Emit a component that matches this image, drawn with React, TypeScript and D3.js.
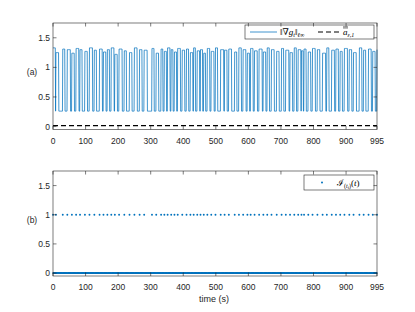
import React from 'react';
import * as d3 from 'd3';

// event instants (s) where the indicator fires; each starts a pulse in the top panel
const eventTimes = [0, 9, 30, 44, 58, 71, 83, 98, 112, 127, 143, 155, 167, 179, 190, 203, 219, 235, 250, 266,
  280, 304, 317, 332, 342, 352, 363, 373, 383, 397, 410, 422, 432, 443, 453, 463, 474, 486, 499, 515,
  527, 540, 558, 571, 584, 597, 607, 619, 633, 646, 658, 671, 687, 702, 715, 728, 741, 753, 763, 771,
  784, 797, 812, 828, 841, 856, 869, 882, 895, 910, 923, 941, 954, 969, 982, 995];
const pulseWidth = [8, 9, 7, 10, 8, 9, 7, 8, 10, 7, 9, 8, 7, 9, 8, 10, 7, 8, 9, 8,
  10, 7, 8, 6, 7, 8, 6, 7, 9, 8, 7, 8, 6, 8, 7, 6, 8, 9, 7, 10,
  8, 9, 7, 8, 9, 7, 8, 9, 10, 8, 7, 9, 8, 7, 10, 8, 7, 9, 6, 7,
  8, 9, 8, 10, 7, 9, 8, 7, 10, 8, 9, 8, 7, 9, 8, 1];
const pulseHigh = [1.33, 1.25, 1.31, 1.3, 1.24, 1.32, 1.3, 1.27, 1.33, 1.29, 1.31, 1.26, 1.3, 1.33, 1.22, 1.31, 1.28, 1.25, 1.33, 1.3,
  1.29, 1.32, 1.24, 1.31, 1.27, 1.33, 1.3, 1.26, 1.32, 1.29, 1.31, 1.25, 1.33, 1.28, 1.3, 1.24, 1.32, 1.27, 1.33, 1.3,
  1.29, 1.31, 1.26, 1.33, 1.3, 1.24, 1.32, 1.28, 1.31, 1.26, 1.33, 1.3, 1.27, 1.32, 1.29, 1.25, 1.33, 1.3, 1.28, 1.31,
  1.26, 1.32, 1.3, 1.24, 1.33, 1.29, 1.31, 1.27, 1.32, 1.3, 1.25, 1.33, 1.29, 1.31, 1.27, 1.3];
const lowLevel = 0.26;
const threshold = 0.015;
const tEnd = 995;

const xTicks = [0, 100, 200, 300, 400, 500, 600, 700, 800, 900, 995];
const yTicks = [0, 0.5, 1, 1.5];

const blue = '#0072BD';
const axisColor = '#262626';
const tickFont = '"Liberation Sans", Arial, sans-serif';
const mathFont = '"Liberation Serif", "DejaVu Serif", serif';

// sampled signal, one sample per second
const times = d3.range(0, tEnd + 1, 1);
const gradNorm = times.map((t) => {
  const k = eventTimes.findIndex((s, i) => t >= s && t < s + pulseWidth[i]);
  return k >= 0 ? pulseHigh[k] : lowLevel;
});
const indicator = times.map((t) => (eventTimes.includes(t) ? 1 : 0));

const W = 415;
const H = 312;
const left = 53;
const right = 377;

const Panel: React.FC<{ top: number; bottom: number; children: React.ReactNode; label: string; xs: d3.ScaleLinear<number, number>; ys: d3.ScaleLinear<number, number> }> = ({ top, bottom, children, label, xs, ys }) => {
  const tl = 3.5;
  return (
    <g>
      {children}
      <rect x={left} y={top} width={right - left} height={bottom - top} fill="none" stroke={axisColor} strokeWidth={0.6} />
      {xTicks.map((t) => (
        <g key={'x' + t}>
          <line x1={xs(t)} x2={xs(t)} y1={bottom} y2={bottom - tl} stroke={axisColor} strokeWidth={0.6} />
          <line x1={xs(t)} x2={xs(t)} y1={top} y2={top + tl} stroke={axisColor} strokeWidth={0.6} />
          <text x={xs(t)} y={bottom + 14} textAnchor="middle" fontSize={8.5} fill={axisColor} fontFamily={tickFont}>{t}</text>
        </g>
      ))}
      {yTicks.map((v) => (
        <g key={'y' + v}>
          <line x1={left} x2={left + tl} y1={ys(v)} y2={ys(v)} stroke={axisColor} strokeWidth={0.6} />
          <line x1={right} x2={right - tl} y1={ys(v)} y2={ys(v)} stroke={axisColor} strokeWidth={0.6} />
          <text x={left - 3} y={ys(v) + 3} textAnchor="end" fontSize={8.5} fill={axisColor} fontFamily={tickFont}>{v}</text>
        </g>
      ))}
      <text x={32} y={ys(1) + 8} textAnchor="middle" fontSize={8.5} fill={axisColor} fontFamily={tickFont}>{label}</text>
    </g>
  );
};

const App: React.FC = () => {
  const xs = d3.scaleLinear().domain([0, tEnd]).range([left, right]);
  const ysA = d3.scaleLinear().domain([-0.05, 1.75]).range([129.5, 23]);
  const ysB = d3.scaleLinear().domain([-0.05, 1.75]).range([276, 171]);

  const line = d3.line<number>().x((_, i) => xs(times[i])).y((d) => ysA(d));
  const threshLine = d3.line<number>().x((t) => xs(t)).y(() => ysA(threshold));

  return (
    <svg width={W} height={H} style={{ position: 'absolute', left: 0, top: 0, background: '#fff' }}>
      <rect width={W} height={H} fill="#fff" />
      <Panel top={23} bottom={129.5} label="(a)" xs={xs} ys={ysA}>
        <path d={line(gradNorm) || ''} fill="none" stroke={blue} strokeWidth={0.75} />
        <path d={threshLine([0, tEnd]) || ''} fill="none" stroke="#000" strokeWidth={1.1} strokeDasharray="5,3" />
        <g>
          <rect x={245} y={25} width={129} height={14} fill="#fff" stroke={axisColor} strokeWidth={0.6} />
          <line x1={250} x2={277} y1={32} y2={32} stroke={blue} strokeWidth={0.75} />
          <text x={280} y={35} fontSize={9} fontFamily={mathFont} fill="#000">
            ‖∇<tspan fontStyle="italic">g</tspan><tspan fontSize={6} dy={2} fontStyle="italic">t</tspan>
            <tspan dy={-2}>‖</tspan><tspan fontSize={6} dy={2} fontStyle="italic">ℓ∞</tspan>
          </text>
          <line x1={318} x2={340} y1={32} y2={32} stroke="#000" strokeWidth={1.1} strokeDasharray="5,3" />
          <text x={343} y={35} fontSize={9} fontFamily={mathFont} fill="#000">
            <tspan fontStyle="italic">a</tspan><tspan fontSize={6} dy={2} fontStyle="italic">ε,1</tspan>
          </text>
          <line x1={343} x2={348} y1={28} y2={28} stroke="#000" strokeWidth={0.5} />
          <line x1={343} x2={348} y1={26.8} y2={26.8} stroke="#000" strokeWidth={0.5} />
        </g>
      </Panel>
      <Panel top={171} bottom={276} label="(b)" xs={xs} ys={ysB}>
        {indicator.map((v, i) => (
          <circle key={i} cx={xs(times[i])} cy={ysB(v)} r={0.95} fill={blue} />
        ))}
        <g>
          <rect x={304} y={175} width={70} height={15} fill="#fff" stroke={axisColor} strokeWidth={0.6} />
          <circle cx={322} cy={182.5} r={1} fill={blue} />
          <text x={337} y={186} fontSize={9} fontFamily={mathFont} fill="#000">
            <tspan>ℐ</tspan><tspan fontSize={6} dy={2}>(</tspan><tspan fontSize={6} fontStyle="italic">t</tspan><tspan fontSize={5} dy={1} fontStyle="italic">i</tspan><tspan fontSize={6} dy={-1}>)</tspan><tspan dy={-2}>(</tspan><tspan fontStyle="italic">t</tspan>)
          </text>
        </g>
      </Panel>
      <text x={214} y={302} textAnchor="middle" fontSize={9} fill={axisColor} fontFamily={tickFont}>time (s)</text>
    </svg>
  );
};

export default App;
